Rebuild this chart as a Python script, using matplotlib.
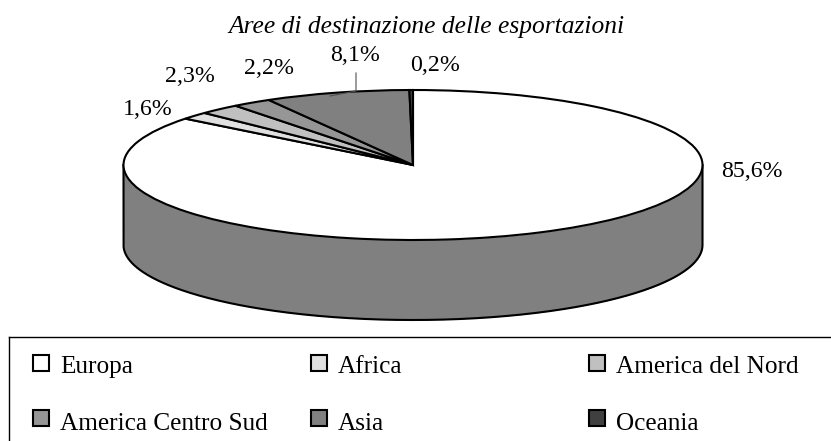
import matplotlib
matplotlib.use('Agg')
from matplotlib import pyplot as plt
from matplotlib.patches import Rectangle
import numpy as np

plt.rcParams['font.family'] = ['Liberation Serif', 'DejaVu Serif']

categories = ['Europa', 'Africa', 'America del Nord', 'America Centro Sud', 'Asia', 'Oceania']
values = [85.6, 1.6, 2.3, 2.2, 8.1, 0.2]
colors = ['#ffffff', '#e0e0e0', '#c0c0c0', '#969696', '#808080', '#404040']
title = 'Aree di destinazione delle esportazioni'

W, H = 831, 441
CX, CY, RX, RY, DEPTH = 413, 165, 289.5, 75, 80

fig = plt.figure(figsize=(W / 100, H / 100), dpi=100)

# pie axes: radius 1 is stretched into the flat ellipse
ax = fig.add_axes([0, 0, 1, 1])
ax.pie(values, colors=colors, startangle=90, counterclock=False, radius=1,
       wedgeprops={'edgecolor': 'black', 'linewidth': 1.5, 'joinstyle': 'miter', 'zorder': 3})
ax.set_aspect('auto')
ax.set_xlim(-CX / RX, (W - CX) / RX)
ax.set_ylim((CY - H) / RY, CY / RY)
ax.axis('off')

# side wall of the pie, drawn as one outline so the corners join
a = np.linspace(np.pi, 2 * np.pi, 400)
t, low = np.cos(a), np.sin(a)
d = DEPTH / RY
ax.fill_between(t, low, low - d, color='#808080', lw=0, zorder=1)
ax.plot(np.r_[-1, t, 1], np.r_[0, low - d, 0], color='black', lw=1.5, zorder=2, solid_joinstyle='round')

# overlay in pixel coordinates for labels and legend
ov = fig.add_axes([0, 0, 1, 1], facecolor='none')
ov.set_xlim(0, W)
ov.set_ylim(H, 0)
ov.axis('off')

ov.text(426.5, 33, title, style='italic', fontsize=18.4, ha='center', va='baseline')

label_pos = [(752, 177), (147.5, 115), (189.5, 82), (269, 74), (354.7, 61), (434.7, 71)]
for v, (x, y) in zip(values, label_pos):
    ov.text(x, y, f'{v:.1f}%'.replace('.', ','), fontsize=17.2, ha='center', va='baseline')

ov.plot([356, 356, 330], [73, 91, 96], color='#505050', lw=0.8, zorder=4)

# legend frame runs off the right and bottom edges
ov.plot([9, 9], [H, 337], color='black', lw=1, clip_on=False)
ov.plot([9, W], [337, 337], color='black', lw=1, clip_on=False)

col_x = [33, 311, 589]
row_y = [355, 410]
text_y = [373, 430]
for i, (name, col) in enumerate(zip(categories, colors)):
    x = col_x[i % 3]
    ov.add_patch(Rectangle((x, row_y[i // 3]), 16, 16, facecolor=col, edgecolor='black', lw=1.5))
    ov.text(x + 27, text_y[i // 3], name, fontsize=18.2, ha='left', va='baseline')

fig.savefig('out.png', dpi=100)
